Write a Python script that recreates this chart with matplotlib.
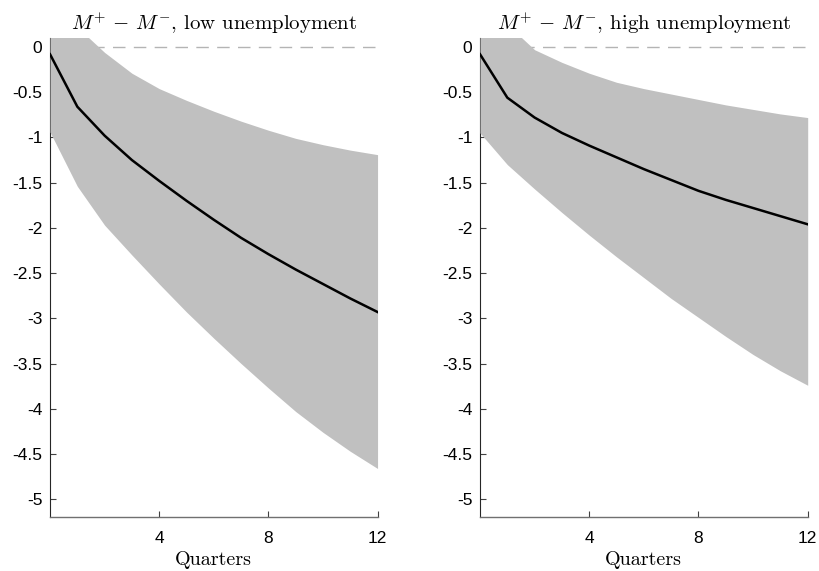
import matplotlib
matplotlib.use("Agg")
import matplotlib.pyplot as plt
from matplotlib.ticker import FixedLocator, FuncFormatter

plt.rcParams['mathtext.fontset'] = 'cm'
plt.rcParams['axes.unicode_minus'] = False
plt.rcParams['font.family'] = ['Liberation Sans', 'DejaVu Sans']

quarters = [0, 1, 2, 3, 4, 5, 6, 7, 8, 9, 10, 11, 12]

low_mid = [-0.08, -0.66, -0.98, -1.25, -1.48, -1.70, -1.91, -2.11, -2.29, -2.46, -2.62, -2.78, -2.93]
low_upper = [0.9, 0.22, -0.06, -0.29, -0.46, -0.59, -0.71, -0.82, -0.92, -1.01, -1.08, -1.14, -1.19]
low_lower = [-0.94, -1.54, -1.97, -2.30, -2.62, -2.93, -3.22, -3.50, -3.77, -4.03, -4.26, -4.47, -4.66]

high_mid = [-0.08, -0.56, -0.78, -0.95, -1.09, -1.22, -1.35, -1.47, -1.59, -1.69, -1.78, -1.87, -1.96]
high_upper = [0.9, 0.25, -0.03, -0.17, -0.29, -0.39, -0.46, -0.52, -0.58, -0.64, -0.69, -0.74, -0.78]
high_lower = [-0.95, -1.30, -1.57, -1.83, -2.08, -2.32, -2.55, -2.78, -2.99, -3.20, -3.40, -3.58, -3.74]

titles = [r"$M^{+}\,-\,M^{-}$, low unemployment",
          r"$M^{+}\,-\,M^{-}$, high unemployment"]
xlabel = "Quarters"
xticks = [4, 8, 12]
yticks = [0, -0.5, -1, -1.5, -2, -2.5, -3, -3.5, -4, -4.5, -5]

fig = plt.figure(figsize=(8.19, 5.71), dpi=100)
positions = [[0.0611, 0.094, 0.3999, 0.8395], [0.5861, 0.094, 0.4001, 0.8395]]
panels = [(low_mid, low_upper, low_lower), (high_mid, high_upper, high_lower)]

for pos, (mid, up, lo), title in zip(positions, panels, titles):
    ax = fig.add_axes(pos)
    ax.axhline(0, color='#b4b4b4', lw=1.0, dashes=(9, 6), zorder=2)
    ax.fill_between(quarters, lo, up, color='#c0c0c0', lw=0, zorder=3)
    ax.plot(quarters, mid, color='black', lw=1.8, zorder=4)
    ax.set_xlim(0, 12)
    ax.set_ylim(-5.2, 0.1)
    for s in ['top', 'right']:
        ax.spines[s].set_visible(False)
    ax.spines['left'].set_color('#262626')
    ax.spines['left'].set_linewidth(0.8)
    ax.spines['bottom'].set_color('#707070')
    ax.spines['bottom'].set_linewidth(1.0)
    ax.xaxis.set_major_locator(FixedLocator(xticks))
    ax.yaxis.set_major_locator(FixedLocator(yticks))
    ax.yaxis.set_major_formatter(FuncFormatter(lambda v, p: f"{v:g}"))
    ax.tick_params(direction='in', length=4, width=0.8, color='#404040',
                   labelsize=12.5)
    ax.tick_params(axis='x', pad=9.5)
    ax.tick_params(axis='y', pad=5.5)
    ax.set_title(title, fontsize=15, pad=6, family='cmr10')
    ax.set_xlabel(xlabel, fontsize=14.5, labelpad=4, family='cmr10')

fig.savefig("out.png", dpi=100)
